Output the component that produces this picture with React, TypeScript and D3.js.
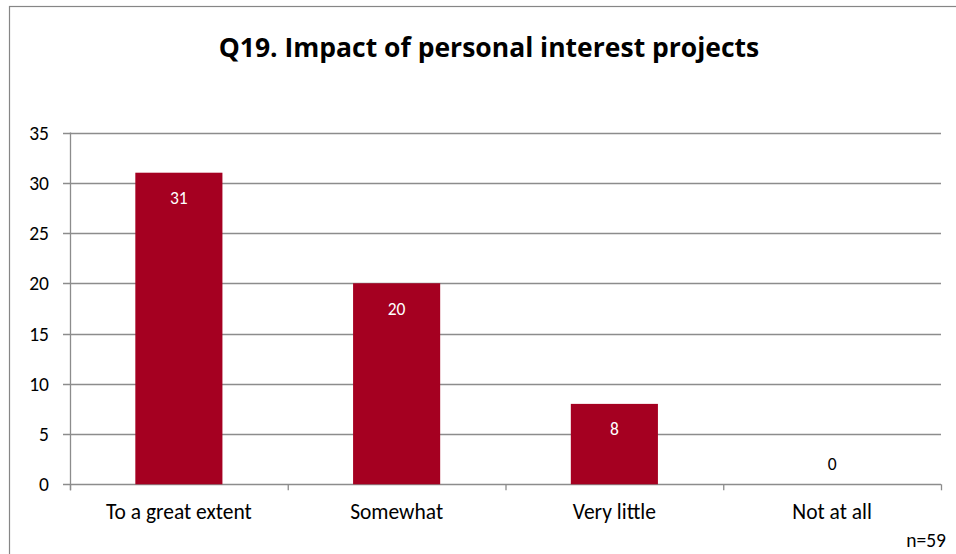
import React from "react";
import * as d3 from "d3";

const categories = ["To a great extent", "Somewhat", "Very little", "Not at all"];
const counts = [31, 20, 8, 0];
const yTicks = [0, 5, 10, 15, 20, 25, 30, 35];
const title = "Q19. Impact of personal interest projects";
const note = "n=59";

const W = 956;
const H = 554;
const FONT = "Carlito, Lato, 'Open Sans', sans-serif";

export default function App() {
  const left = 70;
  const right = 941;
  const top = 132.5;
  const bottom = 484.3;

  const x = d3.scaleBand<string>().domain(categories).range([left, right]).paddingInner(0.6).paddingOuter(0.3);
  const y = d3.scaleLinear().domain([0, 35]).range([bottom, top]);
  const step = (right - left) / categories.length;
  const boundaries = d3.range(categories.length + 1).map((i) => left + i * step);

  return (
    <svg
      width={W}
      height={H}
      style={{ position: "absolute", left: 0, top: 0, background: "#fff" }}
      fontFamily={FONT}
    >
      <rect x={9.5} y={6.5} width={W + 20} height={H + 20} fill="#fff" stroke="#868686" strokeWidth={1.2} />
      <text x={489} y={57} textAnchor="middle" fontSize={26.5} fontWeight="bold" fill="#000" fontFamily="'Open Sans', sans-serif">
        {title}
      </text>
      {yTicks.map((t) => (
        <g key={t}>
          <line x1={63} x2={right} y1={Math.round(y(t)) + 0.5} y2={Math.round(y(t)) + 0.5} stroke="#8c8c8c" strokeWidth={1.3} />
          <text x={49} y={y(t)} dy="0.36em" textAnchor="end" fontSize={19.5} fill="#000">
            {t}
          </text>
        </g>
      ))}
      <line x1={left + 0.5} x2={left + 0.5} y1={top} y2={bottom + 6} stroke="#8c8c8c" strokeWidth={1.3} />
      {boundaries.map((b, i) => (
        <line key={i} x1={b + 0.5} x2={b + 0.5} y1={bottom} y2={bottom + 6} stroke="#8c8c8c" strokeWidth={1.3} />
      ))}
      {categories.map((c, i) => {
        const v = counts[i];
        const bx = x(c)!;
        const bw = x.bandwidth();
        const cx = bx + bw / 2;
        const inside = v > 2;
        return (
          <g key={c}>
            {v > 0 && (
              <rect x={bx} y={y(v)} width={bw} height={y(0) - y(v)} fill="#a50021" />
            )}
            <text
              x={cx}
              y={inside ? y(v) + 25 : y(0) - 21}
              dy="0.36em"
              textAnchor="middle"
              fontSize={17.5}
              fill={inside ? "#fff" : "#000"}
            >
              {v}
            </text>
            <text x={cx} y={519} textAnchor="middle" fontSize={21.5} fill="#000">
              {c}
            </text>
          </g>
        );
      })}
      <text x={946} y={547} textAnchor="end" fontSize={19.5} fill="#000">
        {note}
      </text>
    </svg>
  );
}
